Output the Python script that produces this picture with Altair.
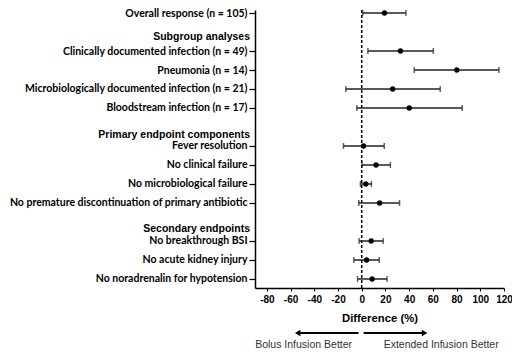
import altair as alt
import pandas as pd

# ---- data ----
rows = [0, 2, 3, 4, 5, 7, 8, 9, 10, 12, 13, 14]
labels = [
    "Overall response (n = 105)",
    "Clinically  documented infection (n = 49)",
    "Pneumonia (n = 14)",
    "Microbiologically  documented infection (n = 21)",
    "Bloodstream infection (n = 17)",
    "Fever resolution",
    "No clinical failure",
    "No microbiological failure",
    "No premature discontinuation of primary antibiotic",
    "No breakthrough BSI",
    "No acute kidney injury",
    "No noradrenalin for hypotension ",
]
diff = [19.2, 32.7, 80.2, 26.1, 40.1, 1.6, 12.1, 3.5, 15.1, 8.0, 4.1, 8.8]
lo = [0.8, 5.2, 44.3, -13.4, -4.1, -15.4, 0.2, -1.1, -2.5, -2.2, -6.6, -3.5]
hi = [37.3, 60.4, 115.7, 66.2, 84.7, 19.0, 24.2, 8.2, 31.9, 18.1, 14.8, 21.4]

header_rows = [1.26, 6.42, 11.36]
header_labels = ["Subgroup analyses", "Primary endpoint components", "Secondary endpoints"]

x_ticks = [-80, -60, -40, -20, 0, 20, 40, 60, 80, 100, 120]

arrow_start = [-2.7, 1.6]
arrow_end = [-54, 53]
arrow_shape = ["triangle-left", "triangle-right"]
note_x = [-49, 67]
note_text = ["Bolus Infusion Better", "Extended Infusion Better"]

df = pd.DataFrame({"row": rows, "label": labels, "diff": diff, "lo": lo, "hi": hi})
hdr = pd.DataFrame({"row": header_rows, "label": header_labels})
arr = pd.DataFrame({"start": arrow_start, "end": arrow_end, "shape": arrow_shape})
notes = pd.DataFrame({"x": note_x, "text": note_text})
zero = pd.DataFrame({"x": [0]})

label_arr = [""] * 15
for r, l in zip(rows, labels):
    label_arr[r] = l
label_expr = "[" + ",".join("'" + s + "'" for s in label_arr) + "][datum.value]"

FONT = "Liberation Sans"
LFONT = "Lato"
xscale = alt.Scale(domain=[-90, 120], nice=False, zero=False)
yscale = alt.Scale(domain=[-0.158, 14.474], nice=False, zero=False, reverse=True)

xaxis = alt.Axis(values=x_ticks, title="Difference (%)", grid=False,
                 labelExpr="datum.value < 0 ? '-' + abs(datum.value) : '' + datum.value",
                 labelFont=FONT, labelFontWeight="bold", labelFontSize=10,
                 labelColor="black", titleFont=FONT, titleFontWeight="bold",
                 titleFontSize=11.3, titleColor="black", titlePadding=8,
                 tickSize=3, labelPadding=3, domainColor="black",
                 tickColor="black", domainWidth=1.5, labelFlush=False,
                 labelOverlap=False, labelBound=False)
yaxis = alt.Axis(values=rows, labelExpr=label_expr, title=None, grid=False,
                 labelFont=LFONT, labelFontWeight="bold", labelFontSize=10.5,
                 labelColor="black", tickSize=6, labelPadding=2,
                 domainColor="black", tickColor="black", domainWidth=1.5,
                 tickWidth=1.2, labelLimit=400, labelOverlap=False,
                 labelBound=False)

zline = alt.Chart(zero).mark_rule(color="black", strokeWidth=1.5, strokeDash=[3, 2]).encode(
    x=alt.X("x:Q", scale=xscale, axis=xaxis))
bars = alt.Chart(df).mark_rule(color="#222", strokeWidth=1.5).encode(
    x=alt.X("lo:Q", scale=xscale, axis=xaxis), x2="hi:Q",
    y=alt.Y("row:Q", scale=yscale, axis=yaxis))
caps_lo = alt.Chart(df).mark_tick(color="#222", thickness=1.5, size=6, orient="vertical").encode(
    x=alt.X("lo:Q", scale=xscale, axis=xaxis), y=alt.Y("row:Q", scale=yscale, axis=yaxis))
caps_hi = alt.Chart(df).mark_tick(color="#222", thickness=1.5, size=6, orient="vertical").encode(
    x=alt.X("hi:Q", scale=xscale, axis=xaxis), y=alt.Y("row:Q", scale=yscale, axis=yaxis))
pts = alt.Chart(df).mark_point(filled=True, color="black", size=28, opacity=1).encode(
    x=alt.X("diff:Q", scale=xscale, axis=xaxis), y=alt.Y("row:Q", scale=yscale, axis=yaxis))
headers = alt.Chart(hdr).mark_text(align="right", baseline="middle", font=FONT,
                                   fontWeight="bold", fontSize=10.5, color="black").encode(
    x=alt.value(-5), y=alt.Y("row:Q", scale=yscale, axis=yaxis), text="label:N")
arrows = alt.Chart(arr).mark_rule(color="black", strokeWidth=2).encode(
    x=alt.X("start:Q", scale=xscale, axis=xaxis), x2="end:Q", y=alt.value(323))
heads = alt.Chart(arr).mark_point(filled=True, color="black", size=40, opacity=1).encode(
    x=alt.X("end:Q", scale=xscale, axis=xaxis), y=alt.value(323),
    shape=alt.Shape("shape:N", scale=None))
note_marks = alt.Chart(notes).mark_text(font=FONT, fontSize=10.5, color="#333",
                                        baseline="middle").encode(
    x=alt.X("x:Q", scale=xscale, axis=xaxis), y=alt.value(334.5), text="text:N")

chart = alt.layer(zline, bars, caps_lo, caps_hi, pts, headers, arrows, heads, note_marks).properties(
    width=249, height=278,
    autosize=alt.AutoSizeParams(type="none"),
    padding={"left": 247, "top": 2, "right": 8, "bottom": 62},
).configure_view(stroke=None).configure_axis(labelOverlap=False)

chart.save("out.html", embed_options={"renderer": "svg", "actions": False})
